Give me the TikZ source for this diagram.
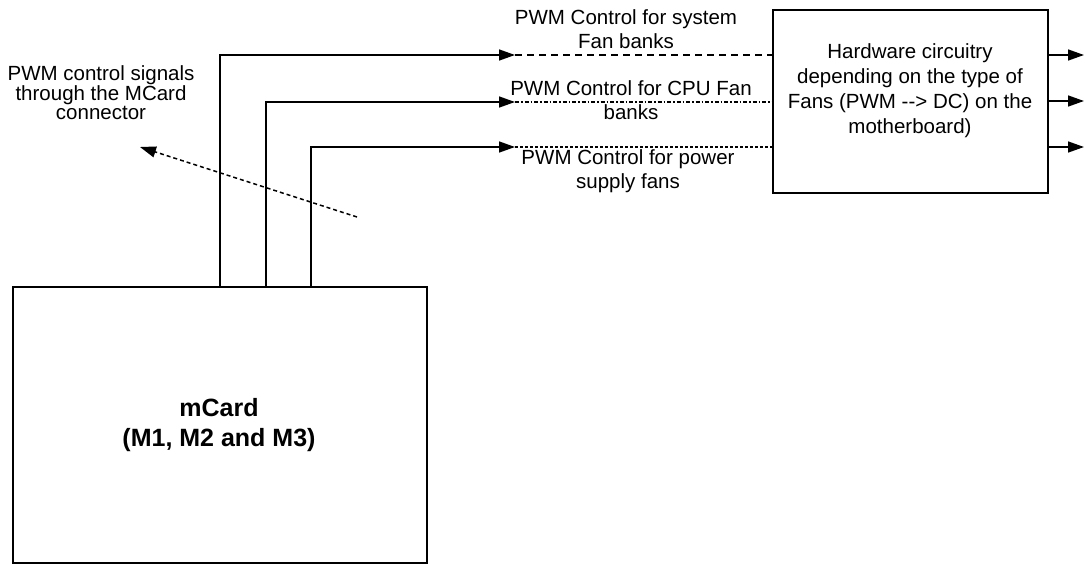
\documentclass[tikz,border=0pt]{standalone}
\usepackage{fontspec}
\setmainfont{Liberation Sans}
\usetikzlibrary{arrows.meta}

\tikzset{
    box/.style={draw, line width=1.5pt, rectangle, inner sep=0pt},
    sig/.style={line width=1.5pt, -{Triangle[length=16pt, width=11pt]}},
    fanline/.style={line width=1.5pt, dash pattern=on 7pt off 5pt},
    lbl/.style={align=center, font=\fontsize{20.5}{24}\selectfont}
}

\begin{document}
\begin{tikzpicture}[x=1pt, y=-1pt]

    \useasboundingbox (0,0) rectangle (1085,565);

    % ================= 方框 =================
    \node[box, minimum width=414pt, minimum height=276pt] (mcard) at (220,425) {};
    \node[align=center, font=\bfseries\fontsize{25}{30}\selectfont] (mcardtext) at (219,425)
        {mCard\\(M1, M2 and M3)};

    \node[box, minimum width=275pt, minimum height=183pt] (hw) at (910.5,101.5) {};
    \node[lbl, font=\fontsize{20.5}{25}\selectfont, anchor=north] (hwtext) at (910,40)
        {Hardware circuitry\\depending on the type of\\Fans (PWM -{}-> DC) on the\\motherboard)};

    % ================= 信号线 =================
    \coordinate (o1) at (220,287);
    \coordinate (o2) at (266,287);
    \coordinate (o3) at (311,287);
    \coordinate (a1) at (515,55);
    \coordinate (a2) at (515,102);
    \coordinate (a3) at (515,147);

    \draw[sig] (o1) |- (a1);
    \draw[sig] (o2) |- (a2);
    \draw[sig] (o3) |- (a3);

    % 虚线到硬件电路
    \draw[fanline] (a1) -- (a1 -| hw.west);
    \draw[fanline, dash pattern=on 4pt off 2pt on 1.5pt off 2pt] (a2) -- (a2 -| hw.west);
    \draw[fanline, dash pattern=on 3pt off 2pt] (a3) -- (a3 -| hw.west);

    % 右侧输出
    \coordinate (e1) at (1084,55);
    \coordinate (e2) at (1084,101);
    \coordinate (e3) at (1084,147);
    \draw[sig] (e1 -| hw.east) -- (e1);
    \draw[sig] (e2 -| hw.east) -- (e2);
    \draw[sig] (e3 -| hw.east) -- (e3);

    % ================= 标签 =================
    \node[lbl] (sysfan) at (626,29) {PWM Control for system\\Fan banks};
    \node[lbl] (cpufan) at (631,100) {PWM Control for CPU Fan\\banks};
    \node[lbl] (psufan) at (628,171) {PWM Control for power\\supply fans};

    \node[lbl, font=\fontsize{20.5}{19}\selectfont] (note) at (101,93)
        {PWM control signals\\through the MCard\\connector};
    \coordinate (ptr) at (357,217);
    \coordinate (tip) at (140,147);
    \draw[sig, dash pattern=on 4pt off 3pt] (ptr) -- (tip);

\end{tikzpicture}
\end{document}
